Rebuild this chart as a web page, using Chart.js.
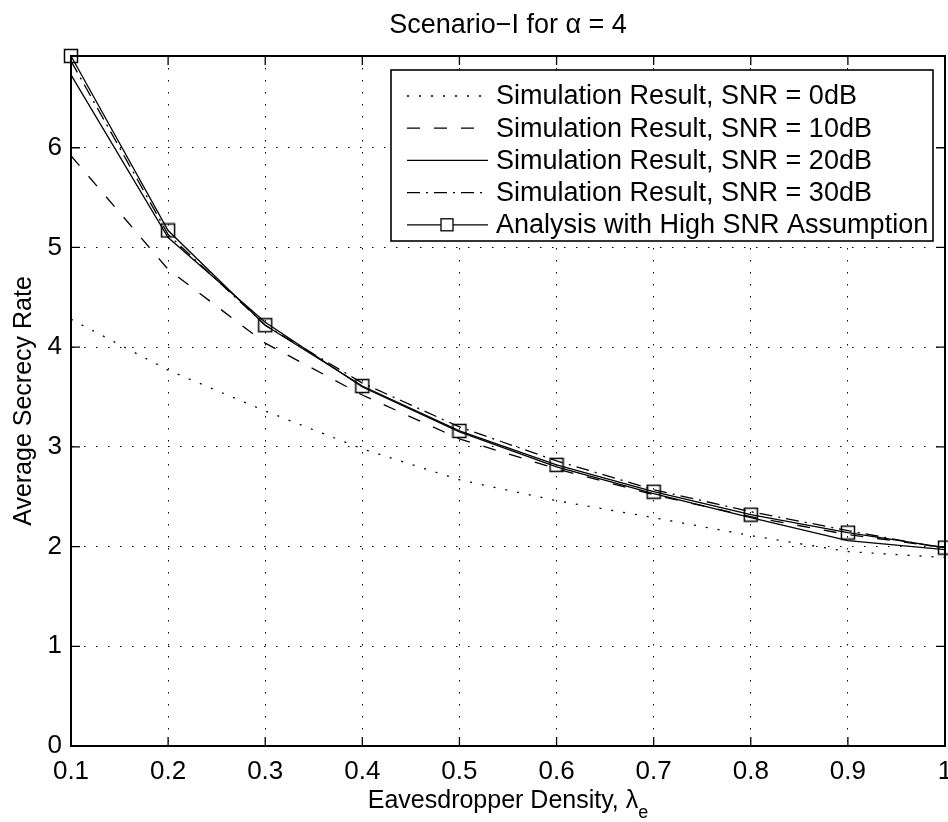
<!DOCTYPE html>
<html>
<head>
<meta charset="utf-8">
<script src="https://cdn.jsdelivr.net/npm/chart.js@4.4.1/dist/chart.umd.min.js"></script>
<style>
  html, body { margin:0; padding:0; background:#fff; }
  #wrap { width:948px; height:822px; }
</style>
</head>
<body>
<div id="wrap"><canvas id="chart" width="948" height="822"></canvas></div>
<script>
// Données
const lambdas = [0.1, 0.2, 0.3, 0.4, 0.5, 0.6, 0.7, 0.8, 0.9, 1.0];
const snr0dB  = [4.28, 3.77, 3.36, 2.98, 2.67, 2.46, 2.29, 2.11, 1.95, 1.89];
const snr10dB = [5.92, 4.78, 4.04, 3.52, 3.08, 2.78, 2.52, 2.30, 2.12, 1.99];
const snr20dB = [6.73, 5.10, 4.25, 3.60, 3.15, 2.80, 2.53, 2.29, 2.06, 1.97];
const snr30dB = [6.87, 5.13, 4.22, 3.64, 3.20, 2.86, 2.57, 2.35, 2.16, 1.98];
const analysis = [6.92, 5.17, 4.22, 3.61, 3.16, 2.82, 2.55, 2.32, 2.14, 1.99];

const xTicks = [0.1, 0.2, 0.3, 0.4, 0.5, 0.6, 0.7, 0.8, 0.9, 1];
const yTicks = [0, 1, 2, 3, 4, 5, 6];

const labels = [
  "Simulation Result, SNR = 0dB",
  "Simulation Result, SNR = 10dB",
  "Simulation Result, SNR = 20dB",
  "Simulation Result, SNR = 30dB",
  "Analysis with High SNR Assumption"
];

const FONT = "'Liberation Sans', Arial, Helvetica, sans-serif";

// Marqueur carré creux (image, pour ne pas réserver de marge autour de la zone)
function squareMarker(side, lw) {
  const c = document.createElement("canvas");
  const n = Math.ceil(side + lw + 1);
  c.width = n; c.height = n;
  const g = c.getContext("2d");
  g.strokeStyle = "#000";
  g.lineWidth = lw;
  g.strokeRect((n - side) / 2, (n - side) / 2, side, side);
  return c;
}
const marker = squareMarker(13, 1.5);

function pts(arr) {
  return arr.map((v, i) => ({x: lambdas[i], y: v}));
}

function ds(label, arr, dash, withMarker) {
  return {
    label: label,
    data: pts(arr),
    borderColor: "#000",
    backgroundColor: "rgba(0,0,0,0)",
    borderWidth: 1.3,
    borderDash: dash,
    pointRadius: withMarker ? 1 : 0,
    pointHoverRadius: 0,
    pointBorderWidth: 0,
    pointStyle: withMarker ? marker : "circle",
    tension: 0,
    clip: false
  };
}

// Décor façon MATLAB : titre, étiquettes, ticks internes, cadre, légende
const matlabDeco = {
  id: "matlabDeco",
  afterDraw(chart) {
    const ctx = chart.ctx;
    const a = chart.chartArea;
    const xs = chart.scales.x, ys = chart.scales.y;
    ctx.save();

    // ticks internes sur les 4 côtés
    ctx.strokeStyle = "#000";
    ctx.lineWidth = 1.3;
    ctx.setLineDash([]);
    const tl = 9;
    xTicks.forEach(v => {
      const px = xs.getPixelForValue(v);
      ctx.beginPath();
      ctx.moveTo(px, a.bottom); ctx.lineTo(px, a.bottom - tl);
      ctx.moveTo(px, a.top); ctx.lineTo(px, a.top + tl);
      ctx.stroke();
    });
    yTicks.forEach(v => {
      const py = ys.getPixelForValue(v);
      ctx.beginPath();
      ctx.moveTo(a.left, py); ctx.lineTo(a.left + tl, py);
      ctx.moveTo(a.right, py); ctx.lineTo(a.right - tl, py);
      ctx.stroke();
    });

    // cadre
    ctx.lineWidth = 2;
    ctx.strokeRect(a.left, a.top, a.right - a.left, a.bottom - a.top);

    // étiquettes des ticks x (centrées, la dernière coupée par le bord)
    ctx.fillStyle = "#000";
    ctx.font = "26px " + FONT;
    ctx.textAlign = "center";
    ctx.textBaseline = "alphabetic";
    xTicks.forEach(v => {
      ctx.fillText(String(v), xs.getPixelForValue(v), a.bottom + 33);
    });

    // titre
    ctx.font = "27px " + FONT;
    const cx = (a.left + a.right) / 2;
    ctx.fillText("Scenario\u2212I for \u03B1 = 4", cx, 33);

    // étiquette axe x avec indice
    ctx.font = "25px " + FONT;
    const main = "Eavesdropper Density, \u03BB";
    const wMain = ctx.measureText(main).width;
    ctx.font = "18px " + FONT;
    const wSub = ctx.measureText("e").width;
    const x0 = cx - (wMain + wSub) / 2;
    ctx.textAlign = "left";
    ctx.font = "25px " + FONT;
    ctx.fillText(main, x0, 808);
    ctx.font = "18px " + FONT;
    ctx.fillText("e", x0 + wMain, 818);

    // étiquette axe y
    ctx.save();
    ctx.translate(31, (a.top + a.bottom) / 2);
    ctx.rotate(-Math.PI / 2);
    ctx.textAlign = "center";
    ctx.font = "25px " + FONT;
    ctx.fillText("Average Secrecy Rate", 0, 0);
    ctx.restore();

    // légende
    const lx = 391, ly = 70, lw = 542, lh = 171;
    ctx.fillStyle = "#fff";
    ctx.fillRect(lx, ly, lw, lh);
    ctx.lineWidth = 1.6;
    ctx.strokeStyle = "#000";
    ctx.strokeRect(lx, ly, lw, lh);
    ctx.font = "27px " + FONT;
    ctx.textAlign = "left";
    ctx.textBaseline = "middle";
    chart.data.datasets.forEach((d, i) => {
      const ry = 96 + i * 32.2;
      ctx.lineWidth = d.borderWidth;
      ctx.setLineDash(d.borderDash || []);
      ctx.beginPath();
      ctx.moveTo(407, ry); ctx.lineTo(488, ry);
      ctx.stroke();
      ctx.setLineDash([]);
      if (d.pointRadius > 0) {
        ctx.lineWidth = 1.3;
        ctx.fillStyle = "#fff";
        ctx.fillRect(441, ry - 6, 12, 12);
        ctx.strokeRect(441, ry - 6, 12, 12);
      }
      ctx.fillStyle = "#000";
      ctx.fillText(d.label, 496, ry + 1);
    });
    ctx.restore();
  }
};

const ctx = document.getElementById("chart").getContext("2d");
new Chart(ctx, {
  type: "line",
  data: {
    datasets: [
      ds(labels[0], snr0dB, [2, 10]),
      ds(labels[1], snr10dB, [13, 14]),
      ds(labels[2], snr20dB, []),
      ds(labels[3], snr30dB, [13, 6, 2, 6]),
      ds(labels[4], analysis, [], true)
    ]
  },
  options: {
    responsive: false,
    devicePixelRatio: 1,
    animation: false,
    events: [],
    layout: { padding: { top: 56, right: 3, left: 0, bottom: 0 } },
    plugins: {
      legend: { display: false },
      title: { display: false },
      tooltip: { enabled: false }
    },
    scales: {
      x: {
        type: "linear",
        min: 0.1,
        max: 1,
        afterBuildTicks: s => { s.ticks = xTicks.map(v => ({value: v})); },
        afterFit: s => { s.height = 76; },
        ticks: { display: false },
        grid: {
          color: "#000",
          lineWidth: 1,
          drawTicks: false
        },
        border: { display: true, color: "#000", width: 2, dash: [1.5, 10.5] }
      },
      y: {
        type: "linear",
        min: 0,
        max: 6.92,
        afterBuildTicks: s => { s.ticks = yTicks.map(v => ({value: v})); },
        afterFit: s => { s.width = 71; },
        ticks: {
          color: "#000",
          font: { size: 26, family: FONT },
          padding: 9,
          autoSkip: false,
          callback: v => String(v)
        },
        grid: {
          color: "#000",
          lineWidth: 1,
          drawTicks: false
        },
        border: { display: true, color: "#000", width: 2, dash: [1.5, 10.5] }
      }
    }
  },
  plugins: [matlabDeco]
});
</script>
</body>
</html>
